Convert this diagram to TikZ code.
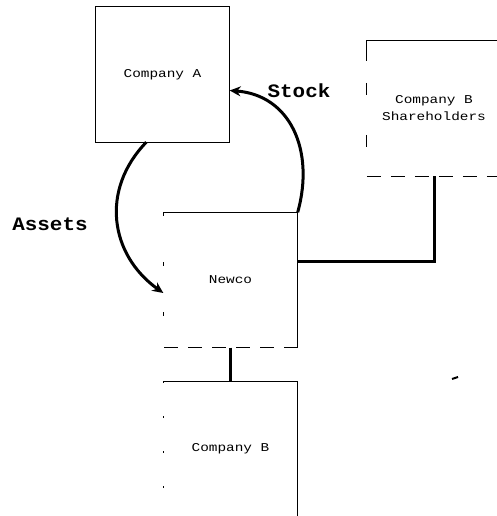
\documentclass[tikz,border=0pt]{standalone}
\usepackage{fontspec}
\newfontfamily\boxfont[FakeStretch=1.2]{Liberation Mono}
\newfontfamily\labfont[FakeStretch=1.1]{Liberation Mono}
\usetikzlibrary{arrows.meta,calc}
\begin{document}
\begin{tikzpicture}[x=1pt,y=-1pt,
  entity/.style={draw=none, minimum width=134pt, minimum height=135pt, inner sep=0pt, align=center, font=\boxfont\fontsize{12}{17}\selectfont},
  edge/.style={line width=1pt},
  conn/.style={line width=3pt},
  flow/.style={line width=3pt, -{Stealth[length=11pt,width=10pt]}},
  lbl/.style={font=\labfont\bfseries\fontsize{19}{22}\selectfont, inner sep=0pt}]
\fill[white] (0,0) rectangle (497,516);
\useasboundingbox (0,0) rectangle (497,516);
\clip (0,0) rectangle (497,516);

\node[entity] (ca) at (162.5,74.5) {Company A};
\node[entity] (sh) at (434,108.5) {Company B\\Shareholders};
\node[entity] (nw) at (230.5,280) {Newco};
\node[entity] (cb) at (230.5,449) {Company B};

% Company A box
\draw[edge] (ca.north west) rectangle (ca.south east);
% Company B Shareholders box
\draw[edge] (sh.north east) -- (sh.north west) -- ++(0,20);
\draw[edge, dash pattern=on 12pt off 40pt] ($(sh.north west)+(0,42)$) -- (sh.south west);
\draw[edge, dash pattern=on 14pt off 10pt] (sh.south west) -- (sh.south east);
% Newco box
\draw[edge] (nw.north west) -- (nw.north east) -- (nw.south east);
\draw[edge, dash pattern=on 14pt off 10pt] (nw.south east) -- (nw.south west);
\draw[edge, dash pattern=on 4pt off 46pt] (nw.north west) -- (nw.south west);
% Company B box
\draw[edge] (cb.south east) -- (cb.north east) -- (cb.north west);
\draw[edge, dash pattern=on 2pt off 33pt] (cb.north west) -- (cb.south west);
\draw[edge, dash pattern=on 12pt off 12pt] (cb.south west) -- (cb.south east);

% connectors
\draw[conn] ($(nw.north east)+(0,49)$) -| (sh.south);
\draw[conn] (nw.south) -- (cb.north);

% flows
\draw[flow] (nw.north east) .. controls (315,150) and (290,95) .. ($(ca.east)+(0,16)$);
\draw[flow] ($(ca.south west)+(51,0)$) .. controls (100,190) and (110,255) .. ($(nw.west)+(0,13)$);

\node[lbl] (stock) at (299,91) {Stock};
\node[lbl] (assets) at (50,224) {Assets};

\draw[line width=2pt] (452,379) -- (458,377);
\end{tikzpicture}
\end{document}
